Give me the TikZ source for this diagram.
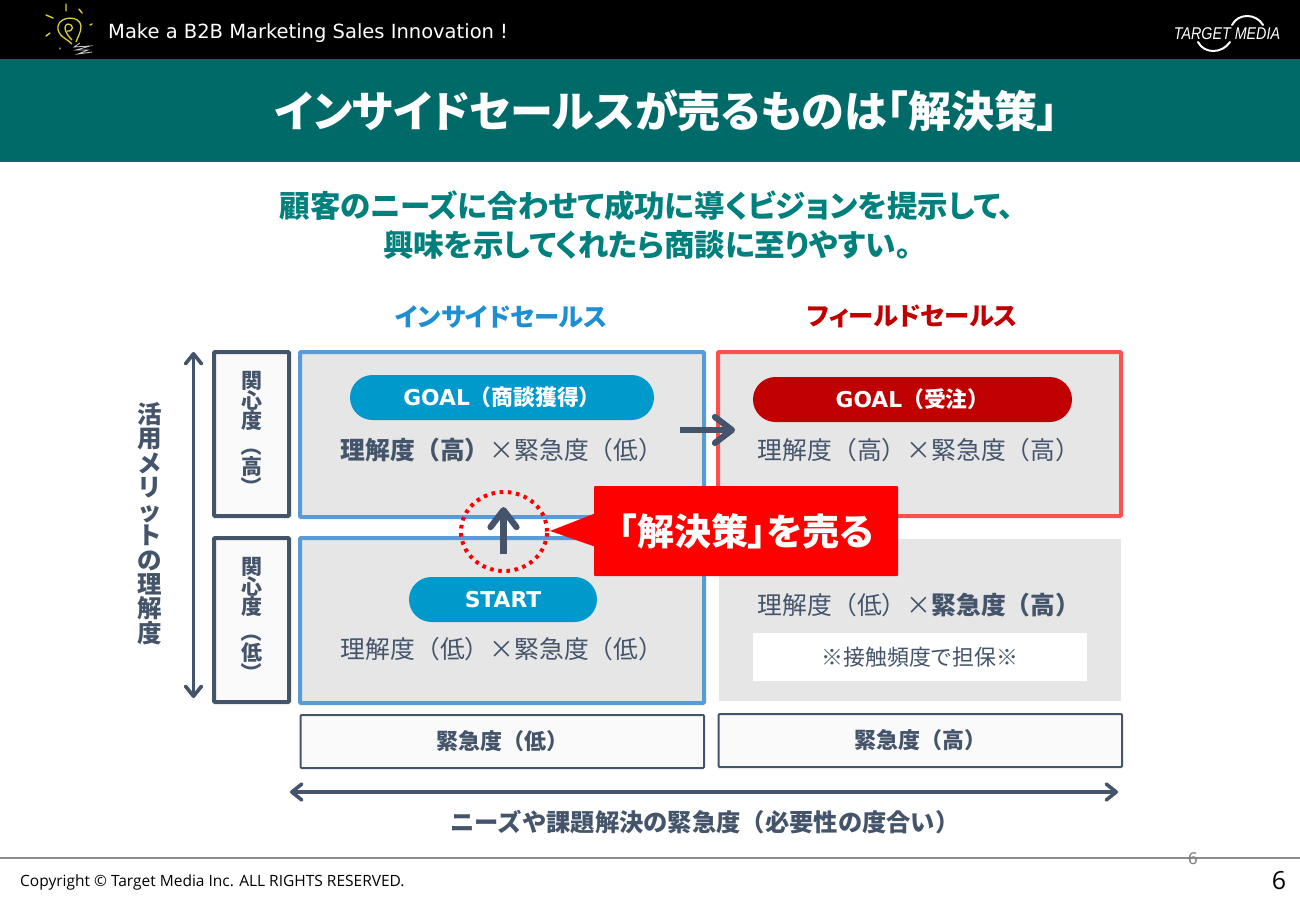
\documentclass[tikz,border=0pt]{standalone}
\usepackage{fontspec}
\usepackage{graphicx}
\usetikzlibrary{arrows.meta}
\setmainfont{Open Sans}
\newfontfamily\jp[RawFeature=+palt]{Noto Sans CJK JP}
\newfontfamily\jpw{Noto Sans CJK JP}
\newfontfamily\hdr{DejaVu Sans}
\newfontfamily\logo[FakeStretch=0.84]{Liberation Sans}
\newcommand{\fsz}[1]{\fontsize{#1}{#1}\selectfont}
\newcommand{\vp}[1]{\rotatebox[origin=c]{-90}{#1}}
\newcommand{\lat}[1]{{\hdr\bfseries #1}}
\definecolor{band}{HTML}{006A68}
\definecolor{teal}{HTML}{00807C}
\definecolor{slate}{HTML}{44546A}
\definecolor{bluebd}{HTML}{5B9BD5}
\definecolor{redbd}{HTML}{FF5050}
\definecolor{cell}{HTML}{E6E6E6}
\definecolor{pillb}{HTML}{0099CC}
\definecolor{pillr}{HTML}{C00000}
\definecolor{isales}{HTML}{1E8FD0}
\definecolor{paper}{HTML}{FAFAFA}
\definecolor{bulb}{HTML}{D9CF3A}
\tikzset{
  x=1pt,y=-1pt,
  box/.style={draw,anchor=north west,inner sep=0pt,outer sep=0pt,rounded corners=1pt},
  bluecell/.style={box,draw=bluebd,line width=4pt,fill=cell,minimum width=404pt,minimum height=165pt},
  redcell/.style={box,draw=redbd,line width=4pt,fill=cell,minimum width=403pt,minimum height=164pt},
  sidebox/.style={box,draw=slate,line width=4pt,fill=paper,minimum width=75pt,minimum height=164pt,align=center,text=slate,font=\jpw\bfseries\fsz{21}},
  axisbox/.style={box,draw=slate,line width=2pt,fill=paper,minimum width=403.5pt,minimum height=53pt,text=slate,font=\jpw\bfseries\fsz{22}},
  pill/.style={rounded corners=22.5pt,inner sep=0pt,text=white,font=\jpw\bfseries\fsz{21.8},minimum height=45pt,anchor=center},
  lab/.style={inner sep=0pt,text=slate,font=\jpw\fsz{24.8}},
  head/.style={inner sep=0pt,font=\jp\bfseries\fsz{25.3}},
  dbl/.style={draw=slate,line width=3.6pt,{Straight Barb[length=10pt,width=16pt,round]}-{Straight Barb[length=10pt,width=16pt,round]}},
  sgl/.style={draw=slate,line width=6.2pt,-{Straight Barb[length=17pt,width=26pt,round]}},
  spark/.style={draw=bulb,line width=1.4pt,line cap=round},
  logoarc/.style={draw=white,line width=2pt,line cap=round},
}
\begin{document}
\begin{tikzpicture}
\useasboundingbox (0,0) rectangle (1300,900);
\fill[white] (0,0) rectangle (1300,900);
% header
\fill[black] (0,0) rectangle (1300,59);
\fill[band] (0,59) rectangle (1300,162);
\node[anchor=west,inner sep=0pt,text=white,font=\hdr\fsz{19.5}] (tagline) at (108,33.5) {Make a B2B Marketing Sales Innovation !};
\node[inner sep=0pt,text=white,font=\jp\bfseries\fsz{43}] (title) at (666.5,111) {インサイドセールスが売るものは「解決策」};
% bulb logo
\draw[spark] (66,4)--(66,11) (79,9)--(82,13) (46,15)--(53,18) (90,25)--(92,24) (46,36)--(50,33) (60,48)--(60,49);
\draw[draw=bulb,line width=1.3pt] (72,44) .. controls (66,38) and (57,36) .. (58,26) .. controls (60,16) and (80,15) .. (81,26) .. controls (81,33) and (78,36) .. (76,42);
\draw[draw=bulb,line width=1.3pt] (72,40) .. controls (66,34) and (62,26) .. (68,24) .. controls (74,24) and (74,32) .. (67,31);
\draw[draw=white!80!black,line width=.8pt] (80,43)--(74,47)--(90,46)--(76,50)--(88,50)--(78,54)--(92,52);
% logo
\node[inner sep=0pt,text=white,font=\logo\itshape\fsz{17}] (logotext) at (1227,33.5) {TARGET MEDIA};
\draw[logoarc] (1232,25) .. controls (1238,13) and (1256,13) .. (1263,25);
\draw[logoarc] (1198,42) .. controls (1204,54) and (1222,54) .. (1230,42);
% subtitle
\node[inner sep=0pt,text=teal,font=\jp\bfseries\fsz{30.5}] (sub1) at (647,206) {顧客のニーズに合わせて成功に導くビジョンを提示して、};
\node[inner sep=0pt,text=teal,font=\jp\bfseries\fsz{30.5}] (sub2) at (647,245) {興味を示してくれたら商談に至りやすい。};
% column headings
\node[head,text=isales] (h1) at (501.5,316.5) {インサイドセールス};
\node[head,text=pillr] (h2) at (912.5,316.5) {フィールドセールス};
% cells
\node[bluecell] (c1) at (300,352) {};
\node[bluecell] (c2) at (300,538) {};
\node[redcell] (c3) at (718,352) {};
\fill[cell] (719,539) rectangle (1121,701);
\node[fill=white,inner sep=0pt,minimum width=334pt,minimum height=48pt,text=slate,font=\jpw\fsz{21.9}] (note) at (920,657) {※接触頻度で担保※};
% side boxes
\node[sidebox] (s1) at (214,352) {関\\[-0.6pt]心\\[-0.6pt]度\\[4pt]\vp{（}\\[-0.6pt]高\\[-0.6pt]\vp{）}};
\node[sidebox] (s2) at (214,538) {関\\[-0.6pt]心\\[-0.6pt]度\\[4pt]\vp{（}\\[-0.6pt]低\\[-0.6pt]\vp{）}};
% bottom boxes
\node[axisbox] (b1) at (300.5,715) {緊急度（低）};
\node[axisbox] (b2) at (718.5,714) {緊急度（高）};
% pills
\node[pill,fill=pillb,minimum width=304pt] (p1) at (502,397.5) {\lat{GOAL}（商談獲得）};
\node[pill,fill=pillr,minimum width=319pt] (p2) at (912.5,399.5) {\lat{GOAL}（受注）};
\node[pill,fill=pillb,minimum width=188pt] (p3) at (503,599.5) {\lat{START}};
% labels
\node[lab] (l1) at (502,450.5) {{\bfseries 理解度（高）}×緊急度（低）};
\node[lab] (l2) at (919,450.5) {理解度（高）×緊急度（高）};
\node[lab] (l3) at (502,649.5) {理解度（低）×緊急度（低）};
\node[lab] (l4) at (919,605.5) {理解度（低）×{\bfseries 緊急度（高）}};
% axes
\coordinate (vt) at (193.5,352);
\coordinate (vb) at (193.5,698);
\draw[dbl] (vt) -- (vb);
\coordinate (hl) at (290,792);
\coordinate (hr) at (1118,792);
\draw[dbl] (hl) -- (hr);
\node[inner sep=0pt,text=slate,align=center,font=\jpw\bfseries\fontsize{24.5}{24.3}\selectfont] (vlabel) at (150,523.5) {活\\用\\メ\\リ\\ッ\\ト\\の\\理\\解\\度};
\node[inner sep=0pt,text=slate,font=\jpw\bfseries\fsz{24.3}] (hlabel) at (705,822) {ニーズや課題解決の緊急度（必要性の度合い）};
% arrows
\coordinate (ra) at (680,430);
\coordinate (rb) at (735,430);
\draw[sgl] (ra) -- (rb);
\coordinate (ua) at (503.5,554);
\coordinate (ub) at (503.5,507);
\draw[sgl] (ua) -- (ub);
\draw[draw=red,line width=4pt,dash pattern=on 3.6pt off 4.6pt] (504,531.5) ellipse (43pt and 39.5pt);
% callout
\fill[red] (550,531) -- (596,513) -- (596,547) -- cycle;
\node[fill=red,inner sep=0pt,minimum width=304pt,minimum height=90pt,rounded corners=1pt,text=white,font=\jp\bfseries\fsz{37}] (call) at (746,531) {「解決策」を売る};
% footer
\draw[draw=black!45,line width=1.2pt] (0,858) -- (1300,858);
\node[inner sep=0pt,text=black!50,font=\hdr\fsz{16}] (pg1) at (1193,859) {6};
\node[anchor=west,inner sep=0pt,text=black,font=\fsz{15.5}] (copy) at (20,882) {Copyright © Target Media Inc. ALL RIGHTS RESERVED.};
\node[inner sep=0pt,text=black,font=\fsz{25}] (pg2) at (1279,881) {6};
\end{tikzpicture}
\end{document}
